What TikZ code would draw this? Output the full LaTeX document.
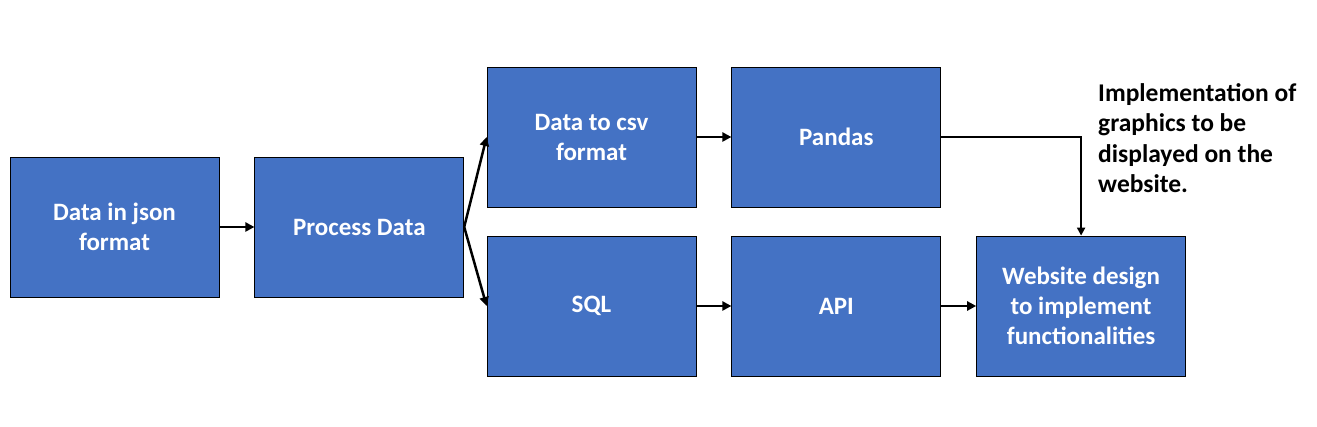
\documentclass[tikz,border=0pt]{standalone}
\usepackage{fontspec}
\setmainfont{Carlito}
\usepackage{xcolor}
\usetikzlibrary{positioning,arrows.meta}

\definecolor{boxblue}{HTML}{4472C4}

\tikzset{
	stage/.style = {draw=black, line width=0.8pt, fill=boxblue,
		minimum width=209pt, minimum height=140pt, inner sep=0pt,
		align=center, text=white,
		font=\fontsize{25}{30}\selectfont\bfseries},
	flow/.style  = {line width=2.5pt, -{Triangle[length=9pt,width=9pt]}},
	elbow/.style = {line width=2pt, -{Triangle[length=8pt,width=8pt]}}
}

\begin{document}
\begin{tikzpicture}[x=1pt, y=1pt, node distance=35pt]
					%\draw[help lines] (0,0) grid (1317,427);
					\useasboundingbox (0,0) rectangle (1317,427);
					
					\node[stage] (json) at (114.5,200) {Data in json\\format};
					\node[stage, right=of json] (process) {Process Data};
					\node[stage] (csv) at (591.5,290) {Data to csv\\format};
					\node[stage, right=of csv] (pandas) {Pandas};
					\node[stage] (sql) at (591.5,121) {SQL};
					\node[stage, right=of sql] (api) {API};
					\node[stage, right=of api] (web) {Website design\\to implement\\functionalities};
					
					\node[anchor=north west, inner sep=0pt, align=left,
						font=\fontsize{25.5}{30.5}\selectfont\bfseries] (note) at (1098,344)
						{Implementation of\\graphics to be\\displayed on the\\website.};
					
					\draw[flow] (json) -- (process);
					\foreach \v in {csv,sql}{\draw[flow] (process.east) -- (\v.west);};
					\draw[flow] (csv) -- (pandas);
					\draw[flow] (sql) -- (api);
					\draw[flow] (api) -- (web);
					\draw[elbow] (pandas.east) -| (web.north);
				\end{tikzpicture}
\end{document}
